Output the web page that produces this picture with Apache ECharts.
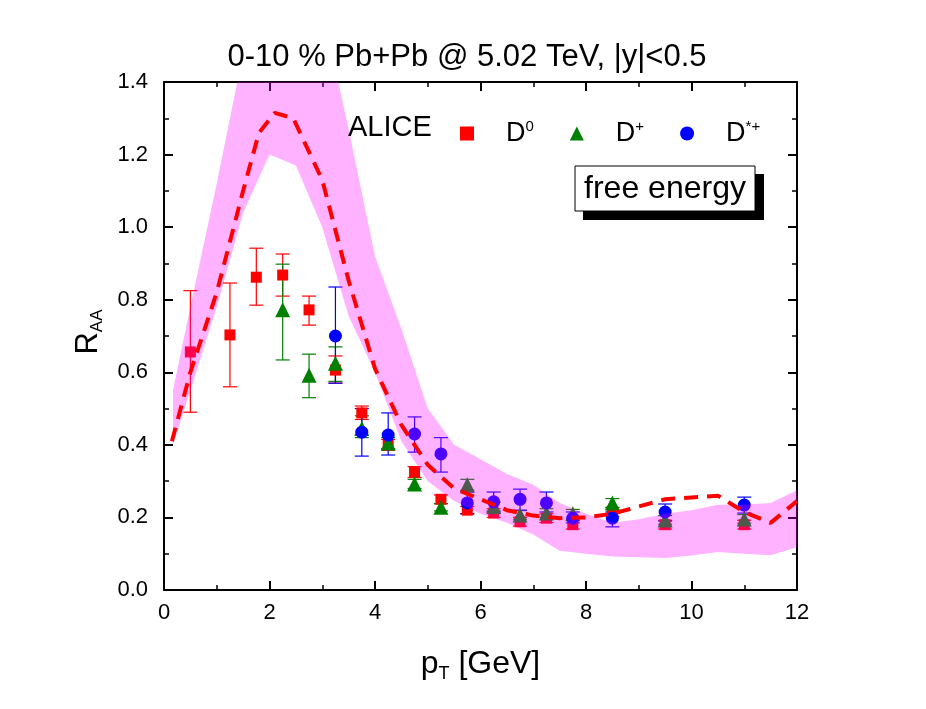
<!DOCTYPE html>
<html><head><meta charset="utf-8">
<script src="https://cdn.jsdelivr.net/npm/echarts@6/dist/echarts.min.js"></script>
<style>html,body{margin:0;padding:0;background:#fff}#c{width:926px;height:709px}</style>
</head><body><div id="c"></div>
<script>
// ---- model band (free energy) ----
const bandX     = [0.17,0.5,1,1.5,2,2.5,3,3.5,4,4.5,5,5.5,6,6.5,7,7.5,8,8.5,9,9.5,10,10.5,11,11.5,12];
const bandUpper = [0.55,0.78,1.12,1.48,1.75,1.75,1.6,1.27,0.92,0.72,0.50,0.40,0.36,0.32,0.29,0.24,0.21,0.185,0.195,0.21,0.22,0.235,0.235,0.24,0.275];
const bandLower = [0.40,0.55,0.78,1.04,1.20,1.17,1.00,0.755,0.60,0.41,0.30,0.245,0.21,0.185,0.153,0.108,0.10,0.092,0.09,0.088,0.095,0.105,0.10,0.096,0.118];
// ---- central model curve ----
const lineX = [0.15,0.5,1,1.5,1.8,2.1,2.45,3,3.5,4,4.5,5,5.5,6,6.5,7,7.5,8,8.5,9,9.5,10,10.5,11,11.5,12];
const lineY = [0.41,0.60,0.82,1.10,1.26,1.315,1.30,1.13,0.853,0.61,0.455,0.345,0.28,0.25,0.22,0.205,0.198,0.20,0.21,0.23,0.25,0.255,0.26,0.215,0.185,0.245];
// ---- ALICE D0 ----
const d0X  = [0.5,1.25,1.75,2.25,2.75,3.25,3.75,4.25,4.75,5.25,5.75,6.25,6.75,7.25,7.75,8.5,9.5,11];
const d0Y  = [0.656,0.703,0.862,0.868,0.772,0.606,0.488,0.40,0.325,0.25,0.22,0.212,0.188,0.198,0.18,0.215,0.18,0.18];
const d0Lo = [0.49,0.56,0.785,0.81,0.73,0.57,0.47,0.385,0.31,0.238,0.21,0.20,0.176,0.186,0.168,0.203,0.168,0.168];
const d0Hi = [0.825,0.846,0.942,0.926,0.81,0.645,0.507,0.415,0.34,0.262,0.23,0.224,0.2,0.21,0.192,0.227,0.192,0.192];
// ---- ALICE D+ ----
const dpX  = [2.25,2.75,3.25,3.75,4.25,4.75,5.25,5.75,6.25,6.75,7.25,7.75,8.5,9.5,11];
const dpY  = [0.772,0.592,0.625,0.445,0.405,0.292,0.228,0.29,0.23,0.207,0.212,0.21,0.24,0.193,0.196];
const dpLo = [0.634,0.53,0.575,0.42,0.39,0.28,0.218,0.275,0.218,0.195,0.2,0.198,0.228,0.181,0.184];
const dpHi = [0.898,0.65,0.67,0.48,0.42,0.305,0.238,0.305,0.242,0.219,0.224,0.222,0.252,0.205,0.208];
// ---- ALICE D*+ ----
const dsX  = [3.25,3.75,4.25,4.75,5.25,5.75,6.25,6.75,7.25,7.75,8.5,9.5,11];
const dsY  = [0.70,0.435,0.427,0.43,0.375,0.24,0.243,0.25,0.24,0.198,0.198,0.215,0.234];
const dsLo = [0.57,0.369,0.372,0.38,0.325,0.21,0.215,0.22,0.215,0.185,0.174,0.19,0.212];
const dsHi = [0.835,0.50,0.488,0.477,0.42,0.27,0.27,0.278,0.27,0.215,0.215,0.237,0.256];
// ---- axis ticks ----
const xTicks = [0,2,4,6,8,10,12];
const yTicks = [0.0,0.2,0.4,0.6,0.8,1.0,1.2,1.4];

const FONT = 'Liberation Sans';
const chart = echarts.init(document.getElementById('c'));

function errSeries(xs, lo, hi, color) {
  return {
    type: 'custom', z: 3, silent: true,
    data: xs.map((x, i) => [x, lo[i], hi[i]]),
    renderItem: function (params, api) {
      const a = api.coord([api.value(0), api.value(1)]);
      const b = api.coord([api.value(0), api.value(2)]);
      const w = 7;
      const st = { stroke: color, lineWidth: 1.2 };
      return { type: 'group', children: [
        { type: 'line', shape: { x1: a[0], y1: a[1], x2: b[0], y2: b[1] }, style: st },
        { type: 'line', shape: { x1: a[0]-w, y1: a[1], x2: a[0]+w, y2: a[1] }, style: st },
        { type: 'line', shape: { x1: b[0]-w, y1: b[1], x2: b[0]+w, y2: b[1] }, style: st }
      ]};
    }
  };
}

const axisCommon = {
  axisLine: { show: true, onZero: false, lineStyle: { color: '#000', width: 2 } },
  axisTick: { show: true, inside: true, length: 9, lineStyle: { color: '#000', width: 2 } },
  minorTick: { show: true, splitNumber: 2, length: 5, lineStyle: { color: '#000', width: 1.5 } },
  splitLine: { show: false }
};

const sup = { fontFamily: FONT, fontSize: 15, color: '#000', padding: [0, 0, 14, 0] };

chart.setOption({
  animation: false,
  backgroundColor: '#fff',
  title: {
    text: '0-10 % Pb+Pb @ 5.02 TeV, |y|<0.5',
    left: 462, top: 37, textAlign: 'center',
    textStyle: { fontFamily: FONT, fontSize: 31, fontWeight: 'normal', color: '#000' }
  },
  grid: { left: 164, right: 129, top: 82, bottom: 119 },
  legend: {
    left: 455, top: 114, itemWidth: 14, itemHeight: 14, itemGap: 36,
    data: [
      { name: 'D0', icon: 'rect' },
      { name: 'D+', icon: 'triangle' },
      { name: 'D*+', icon: 'circle' }
    ],
    formatter: function (n) {
      if (n === 'D0') return '{m|D}{s|0}';
      if (n === 'D+') return '{m|D}{s|+}';
      return '{m|D}{s|*+}';
    },
    textStyle: {
      padding: [0, 0, 0, 27],
      rich: { m: { fontFamily: FONT, fontSize: 27, color: '#000' }, s: sup }
    }
  },
  xAxis: [
    Object.assign({}, axisCommon, {
      type: 'value', min: 0, max: 12, interval: 2, position: 'bottom',
      name: '{m|p}{s|T}{m| [GeV]}', nameLocation: 'middle', nameGap: 55,
      nameTextStyle: { rich: {
        m: { fontFamily: FONT, fontSize: 32, color: '#000' },
        s: { fontFamily: FONT, fontSize: 18, color: '#000', padding: [20, 0, 0, 0] } } },
      axisLabel: { fontFamily: FONT, fontSize: 22, color: '#000', margin: 12,
        formatter: v => xTicks.includes(v) ? String(v) : '' }
    }),
    Object.assign({}, axisCommon, {
      type: 'value', min: 0, max: 12, interval: 2, position: 'top',
      axisLabel: { show: false }
    })
  ],
  yAxis: [
    Object.assign({}, axisCommon, {
      type: 'value', min: 0, max: 1.4, interval: 0.2, position: 'left',
      name: '{m|R}{s|AA}', nameLocation: 'middle', nameGap: 58, nameRotate: 90,
      nameTextStyle: { padding: [0, 0, 0, 8], rich: {
        m: { fontFamily: FONT, fontSize: 31, color: '#000' },
        s: { fontFamily: FONT, fontSize: 17, color: '#000', padding: [18, 0, 0, 0] } } },
      axisLabel: { fontFamily: FONT, fontSize: 22, color: '#000', margin: 16,
        formatter: v => yTicks.some(t => Math.abs(t - v) < 1e-6) ? v.toFixed(1) : '' }
    }),
    Object.assign({}, axisCommon, {
      type: 'value', min: 0, max: 1.4, interval: 0.2, position: 'right',
      axisLabel: { show: false }
    })
  ],
  graphic: [
    { type: 'text', left: 348, top: 113, z: 100,
      style: { text: 'ALICE', font: '29px "Liberation Sans"', fill: '#000' } },
    { type: 'rect', shape: { x: 583, y: 174, width: 181, height: 46 }, style: { fill: '#000' }, z: 100 },
    { type: 'rect', shape: { x: 575, y: 166, width: 180, height: 45 }, style: { fill: '#fff', stroke: '#000', lineWidth: 1 }, z: 101 },
    { type: 'text', x: 665, y: 189, z: 102,
      style: { text: 'free energy', font: '32px "Liberation Sans"', fill: '#000', align: 'center', verticalAlign: 'middle' } }
  ],
  series: [
    errSeries(d0X, d0Lo, d0Hi, '#ff0000'),
    errSeries(dpX, dpLo, dpHi, '#008000'),
    errSeries(dsX, dsLo, dsHi, '#0000ff'),
    { name: 'D0', type: 'scatter', z: 4, symbol: 'rect', symbolSize: 11,
      itemStyle: { color: '#ff0000', opacity: 1 }, data: d0X.map((x, i) => [x, d0Y[i]]) },
    { name: 'D+', type: 'scatter', z: 4, symbol: 'triangle', symbolSize: 15,
      itemStyle: { color: '#008000', opacity: 1 }, data: dpX.map((x, i) => [x, dpY[i]]) },
    { name: 'D*+', type: 'scatter', z: 4, symbol: 'circle', symbolSize: 13,
      itemStyle: { color: '#0000ff', opacity: 1 }, data: dsX.map((x, i) => [x, dsY[i]]) },
    { name: 'band', type: 'custom', z: 6, silent: true, clip: true,
      data: [[bandX[0], bandLower[0]]],
      renderItem: function (params, api) {
        const pts = [];
        for (let i = 0; i < bandX.length; i++) pts.push(api.coord([bandX[i], bandUpper[i]]));
        for (let i = bandX.length - 1; i >= 0; i--) pts.push(api.coord([bandX[i], bandLower[i]]));
        return { type: 'polygon', shape: { points: pts },
          style: { fill: 'rgba(255,0,255,0.3)' } };
      }
    },
    { name: 'model', type: 'line', z: 7, symbol: 'none', silent: true,
      lineStyle: { color: '#ff0000', width: 4, type: [14, 9] },
      data: lineX.map((x, i) => [x, lineY[i]]) }
  ]
});
</script></body></html>
